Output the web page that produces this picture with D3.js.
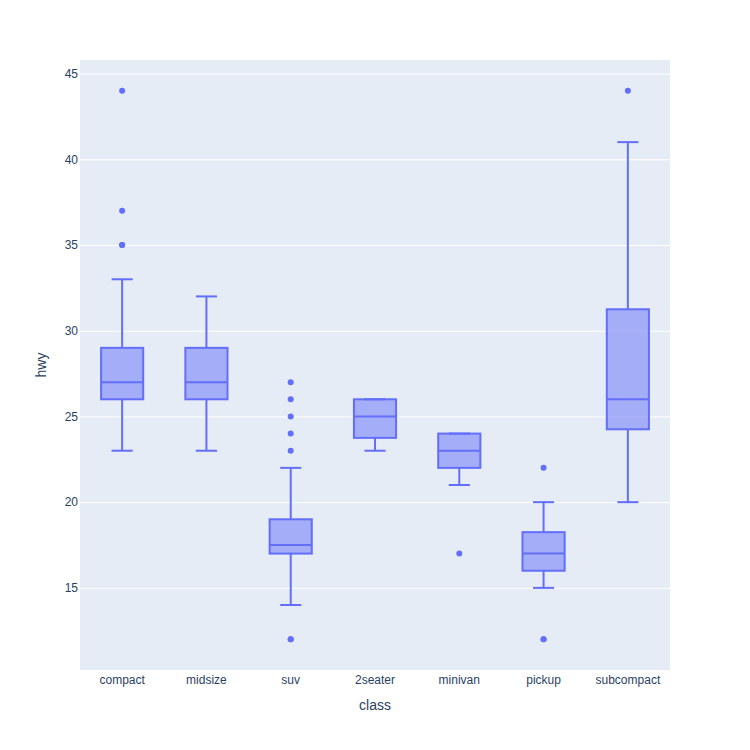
<!DOCTYPE html>
<html>
<head>
<meta charset="utf-8">
<script src="https://cdn.jsdelivr.net/npm/d3@7"></script>
<style>
  body { margin: 0; background: #fff; }
  text { font-family: "Liberation Sans", Arial, sans-serif; fill: #2a3f5f; }
</style>
</head>
<body>
<script>
// values
const classes = ["compact", "midsize", "suv", "2seater", "minivan", "pickup", "subcompact"];
const q1 = [26, 26, 17, 23.75, 22, 16, 24.25];
const medians = [27, 27, 17.5, 25, 23, 17, 26];
const q3 = [29, 29, 19, 26, 24, 18.25, 31.25];
const lowerFence = [23, 23, 14, 23, 21, 15, 20];
const upperFence = [33, 32, 22, 26, 24, 20, 41];
const outliers = [
  [35, 35, 37, 44],
  [],
  [12, 12, 23, 24, 25, 26, 27],
  [],
  [17],
  [12, 12, 22],
  [44]
];
const yTicks = [15, 20, 25, 30, 35, 40, 45];

const width = 750, height = 750;
const m = { top: 60, right: 80, bottom: 80, left: 80 };
const color = "#636efa";
const font = '"Liberation Sans", Arial, sans-serif';

const svg = d3.select("body").append("svg")
  .attr("width", width)
  .attr("height", height);

const x = d3.scaleBand()
  .domain(classes)
  .range([m.left, width - m.right]);

const y = d3.scaleLinear()
  .domain([10.21, 45.79])
  .range([height - m.bottom, m.top]);

// plot background
svg.append("rect")
  .attr("x", m.left)
  .attr("y", m.top)
  .attr("width", width - m.left - m.right)
  .attr("height", height - m.top - m.bottom)
  .attr("fill", "#E5ECF6");

// gridlines + y tick labels
const yAxis = svg.append("g")
  .attr("transform", `translate(${m.left},0)`)
  .call(d3.axisLeft(y).tickValues(yTicks).tickSize(-(width - m.left - m.right)).tickPadding(2));
yAxis.select(".domain").remove();
yAxis.selectAll(".tick line").attr("stroke", "#fff").attr("stroke-width", 1);
yAxis.selectAll(".tick text")
  .attr("font-size", 12)
  .attr("fill", "#2a3f5f")
  .attr("font-family", font);

const xAxis = svg.append("g")
  .attr("transform", `translate(0,${height - m.bottom})`)
  .call(d3.axisBottom(x).tickSize(0).tickPadding(5));
xAxis.select(".domain").remove();
xAxis.selectAll(".tick text")
  .attr("font-size", 12)
  .attr("fill", "#2a3f5f")
  .attr("font-family", font);

// axis titles
svg.append("text")
  .attr("x", m.left + (width - m.left - m.right) / 2)
  .attr("y", 710)
  .attr("text-anchor", "middle")
  .attr("font-size", 14)
  .text("class");

svg.append("text")
  .attr("transform", `translate(46,${m.top + (height - m.top - m.bottom) / 2}) rotate(-90)`)
  .attr("text-anchor", "middle")
  .attr("font-size", 14)
  .text("hwy");

// boxes
const boxW = x.bandwidth() * 0.5;
const capW = boxW * 0.5;

const boxes = svg.append("g").selectAll("g")
  .data(classes)
  .enter()
  .append("g")
  .attr("transform", d => `translate(${x(d) + x.bandwidth() / 2},0)`);

// whiskers
boxes.append("line")
  .attr("x1", 0).attr("x2", 0)
  .attr("y1", (d, i) => y(upperFence[i]))
  .attr("y2", (d, i) => y(q3[i]))
  .attr("stroke", color).attr("stroke-width", 2);
boxes.append("line")
  .attr("x1", 0).attr("x2", 0)
  .attr("y1", (d, i) => y(q1[i]))
  .attr("y2", (d, i) => y(lowerFence[i]))
  .attr("stroke", color).attr("stroke-width", 2);
boxes.append("line")
  .attr("x1", -capW / 2).attr("x2", capW / 2)
  .attr("y1", (d, i) => y(upperFence[i]))
  .attr("y2", (d, i) => y(upperFence[i]))
  .attr("stroke", color).attr("stroke-width", 2);
boxes.append("line")
  .attr("x1", -capW / 2).attr("x2", capW / 2)
  .attr("y1", (d, i) => y(lowerFence[i]))
  .attr("y2", (d, i) => y(lowerFence[i]))
  .attr("stroke", color).attr("stroke-width", 2);

boxes.append("rect")
  .attr("x", -boxW / 2)
  .attr("width", boxW)
  .attr("y", (d, i) => y(q3[i]))
  .attr("height", (d, i) => y(q1[i]) - y(q3[i]))
  .attr("fill", "rgba(99,110,250,0.5)")
  .attr("stroke", color)
  .attr("stroke-width", 2);

boxes.append("line")
  .attr("x1", -boxW / 2).attr("x2", boxW / 2)
  .attr("y1", (d, i) => y(medians[i]))
  .attr("y2", (d, i) => y(medians[i]))
  .attr("stroke", color).attr("stroke-width", 2);

// outlier points
boxes.each(function(d, i) {
  d3.select(this).selectAll("circle")
    .data(outliers[i])
    .enter()
    .append("circle")
    .attr("cx", 0)
    .attr("cy", v => y(v))
    .attr("r", 3)
    .attr("fill", color);
});
</script>
</body>
</html>
